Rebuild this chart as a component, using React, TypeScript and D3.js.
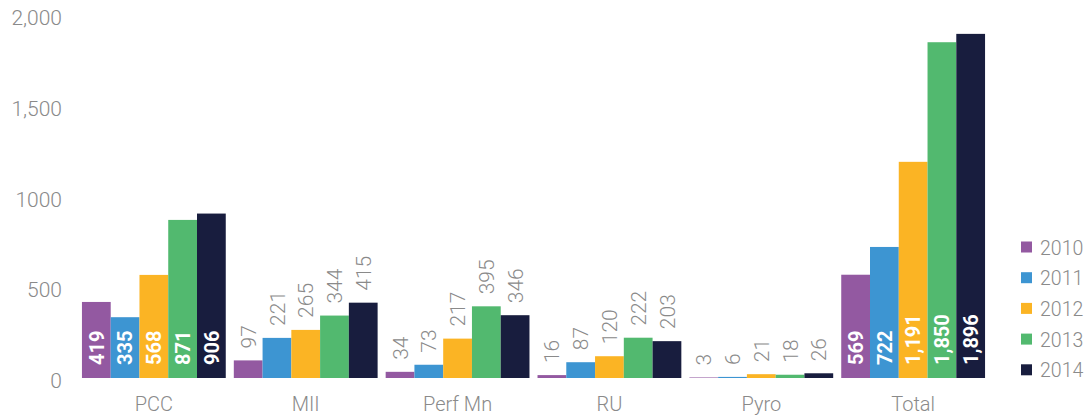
import React from "react";
import * as d3 from "d3";

const categories = ["PCC", "MII", "Perf Mn", "RU", "Pyro", "Total"];
const years = ["2010", "2011", "2012", "2013", "2014"];
const values: number[][] = [
  [419, 335, 568, 871, 906],
  [97, 221, 265, 344, 415],
  [34, 73, 217, 395, 346],
  [16, 87, 120, 222, 203],
  [3, 6, 21, 18, 26],
  [569, 722, 1191, 1850, 1896],
];
// groups whose numbers sit inside the bars
const insideLabels = ["PCC", "Total"];
const yTicks = [0, 500, 1000, 1500, 2000];
const yTickLabels = ["0", "500", "1000", "1,500", "2,000"];
const colors = ["#9359a1", "#3d95d2", "#fbb424", "#52b96f", "#181d3e"];

const width = 1086;
const height = 417;
const gray = "#8a8a8a";
const lightFont = "Roboto, 'Open Sans', sans-serif";

export default function App() {
  const x = d3.scaleBand<string>()
    .domain(categories)
    .range([78, 989])
    .paddingInner(0.053)
    .paddingOuter(0.026);

  const xInner = d3.scaleBand<string>()
    .domain(years)
    .range([0, x.bandwidth()]);

  const y = d3.scaleLinear().domain([0, 2000]).range([378, 15]);
  const fmt = d3.format(",d");

  return (
    <svg
      width={width}
      height={height}
      style={{ position: "absolute", left: 0, top: 0, display: "block" }}
    >
      {/* y tick labels */}
      {yTicks.map((t, i) => (
        <text
          key={t}
          x={62}
          y={y(t) + 3}
          textAnchor="end"
          dominantBaseline="central"
          fontFamily={lightFont}
          fontWeight={300}
          fontSize={21}
          fill={gray}
        >
          {yTickLabels[i]}
        </text>
      ))}

      {categories.map((cat, ci) => {
        const inside = insideLabels.includes(cat);
        const gx = x(cat)!;
        return (
          <g key={cat} transform={`translate(${gx},0)`}>
            {years.map((yr, yi) => {
              const v = values[ci][yi];
              const bx = xInner(yr)!;
              const bw = xInner.bandwidth();
              const top = y(v);
              const cx = bx + bw / 2;
              const ly = inside ? y(0) - 13 : top - 12;
              return (
                <g key={yr}>
                  <rect x={bx} y={top} width={bw} height={y(0) - top} fill={colors[yi]} />
                  <text
                    transform={`translate(${cx},${ly}) rotate(-90)`}
                    dy="0.36em"
                    textAnchor="start"
                    fontFamily={lightFont}
                    fontWeight={inside ? 700 : 300}
                    fontSize={inside ? 20 : 21}
                    fill={inside ? "#ffffff" : gray}
                  >
                    {fmt(v)}
                  </text>
                </g>
              );
            })}
            <text
              x={x.bandwidth() / 2}
              y={404}
              textAnchor="middle"
              dominantBaseline="central"
              fontFamily={lightFont}
              fontWeight={300}
              fontSize={20}
              fill={gray}
            >
              {cat}
            </text>
          </g>
        );
      })}

      {/* legend */}
      {years.map((yr, i) => (
        <g key={yr} transform={`translate(1021,${247 + i * 30.7})`}>
          <rect x={0} y={-5.5} width={11} height={11} fill={colors[i]} />
          <text
            x={19}
            y={1}
            dominantBaseline="central"
            fontFamily={lightFont}
            fontWeight={300}
            fontSize={19.5}
            fill={gray}
          >
            {yr}
          </text>
        </g>
      ))}
    </svg>
  );
}
